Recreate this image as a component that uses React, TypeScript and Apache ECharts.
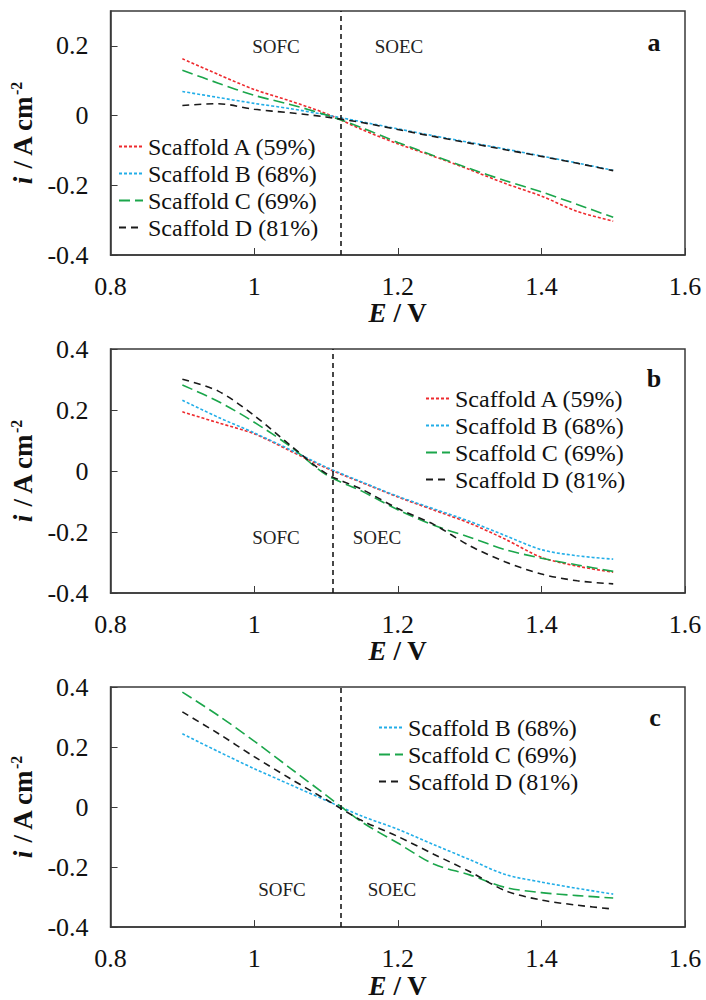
import React, { useEffect, useRef } from "react";
import * as echarts from "echarts";

// ---------- data ----------
const E_GRID = [0.9, 0.95, 1.0, 1.05, 1.1, 1.15, 1.2, 1.25, 1.3, 1.35, 1.4, 1.45, 1.5];

// Panel a
const a_A = [0.163, 0.118, 0.075, 0.042, 0.006, -0.04, -0.081, -0.117, -0.155, -0.195, -0.231, -0.275, -0.303];
const a_B = [0.069, 0.052, 0.035, 0.02, 0.002, -0.018, -0.038, -0.058, -0.077, -0.096, -0.116, -0.136, -0.157];
const a_C = [0.13, 0.093, 0.058, 0.032, 0.002, -0.035, -0.077, -0.115, -0.152, -0.187, -0.219, -0.255, -0.292];
const a_D = [0.029, 0.034, 0.018, 0.008, -0.004, -0.02, -0.04, -0.06, -0.079, -0.098, -0.117, -0.137, -0.158];

// Panel b
const b_A = [0.194, 0.158, 0.122, 0.066, 0.01, -0.038, -0.085, -0.128, -0.171, -0.224, -0.283, -0.312, -0.332];
const b_B = [0.232, 0.176, 0.125, 0.07, 0.013, -0.036, -0.083, -0.124, -0.165, -0.212, -0.258, -0.278, -0.289];
const b_C = [0.282, 0.228, 0.16, 0.081, -0.012, -0.066, -0.127, -0.178, -0.217, -0.258, -0.286, -0.308, -0.329];
const b_D = [0.301, 0.262, 0.182, 0.085, -0.008, -0.06, -0.123, -0.175, -0.245, -0.298, -0.338, -0.36, -0.37];

// Panel c
const c_B = [0.244, 0.185, 0.128, 0.075, 0.022, -0.03, -0.074, -0.125, -0.175, -0.225, -0.25, -0.271, -0.29];
const c_C = [0.383, 0.305, 0.22, 0.13, 0.04, -0.05, -0.12, -0.19, -0.226, -0.268, -0.285, -0.295, -0.303];
const c_D = [0.317, 0.245, 0.168, 0.095, 0.025, -0.045, -0.098, -0.157, -0.215, -0.279, -0.31, -0.327, -0.34];

const DIVIDER_E = [1.12, 1.108, 1.12];
const Y_MAX = [0.3, 0.4, 0.4];
const Y_MIN = -0.4;
const X_MIN = 0.8;
const X_MAX = 1.6;
const PANEL_LETTERS = ["a", "b", "c"];

const FONT = "'Liberation Serif', 'Times New Roman', serif";

const STYLES: Record<string, { color: string; type: number[] }> = {
  "Scaffold A (59%)": { color: "#ee2a2e", type: [3, 2] },
  "Scaffold B (68%)": { color: "#22aee8", type: [3, 2] },
  "Scaffold C (69%)": { color: "#1ba64b", type: [11, 5] },
  "Scaffold D (81%)": { color: "#1a1a1a", type: [7, 5] },
};

const PANELS = [
  { series: [["Scaffold A (59%)", a_A], ["Scaffold B (68%)", a_B], ["Scaffold C (69%)", a_C], ["Scaffold D (81%)", a_D]] },
  { series: [["Scaffold A (59%)", b_A], ["Scaffold B (68%)", b_B], ["Scaffold C (69%)", b_C], ["Scaffold D (81%)", b_D]] },
  { series: [["Scaffold B (68%)", c_B], ["Scaffold C (69%)", c_C], ["Scaffold D (81%)", c_D]] },
];

// ---------- layout ----------
const GRID_TOPS = [11, 349, 687];
const GRID_H = 244;
const GRID_LEFT = 103;
const GRID_RIGHT = 21;
const LEGEND_POS = [
  { left: 118, top: 133 },
  { left: 425, top: 385 },
  { left: 378, top: 714 },
];
const LETTER_POS = [
  { x: 654, y: 42 },
  { x: 654, y: 378 },
  { x: 655, y: 717 },
];
const REGION_POS = [
  { sofc: [276, 46], soec: [399, 46] },
  { sofc: [276, 537], soec: [377, 537] },
  { sofc: [282, 889], soec: [392, 889] },
];

export default function App() {
  const ref = useRef<HTMLDivElement>(null);

  useEffect(() => {
    if (!ref.current) return;
    const chart = echarts.init(ref.current, undefined, { renderer: "svg" });

    const axisColor = "#3a3a3a";
    const grids: any[] = [];
    const xAxes: any[] = [];
    const yAxes: any[] = [];
    const series: any[] = [];
    const legends: any[] = [];
    const graphics: any[] = [];

    PANELS.forEach((panel, p) => {
      grids.push({
        left: GRID_LEFT,
        right: GRID_RIGHT,
        top: GRID_TOPS[p],
        height: GRID_H,
        show: true,
        borderColor: axisColor,
        borderWidth: 1.5,
        containLabel: false,
      });
      xAxes.push({
        type: "value",
        gridIndex: p,
        min: X_MIN,
        max: X_MAX,
        interval: 0.2,
        axisLine: { show: true, onZero: false, lineStyle: { color: axisColor, width: 1.5 } },
        axisTick: { show: true, inside: true, length: 7, lineStyle: { color: axisColor, width: 1 } },
        splitLine: { show: false },
        axisLabel: { fontFamily: FONT, fontSize: 26, color: "#111", margin: 18 },
        name: "{e|E}{t| / V}",
        nameLocation: "middle",
        nameGap: 44,
        nameTextStyle: {
          fontFamily: FONT,
          fontSize: 27,
          color: "#111",
          rich: {
            e: { fontFamily: FONT, fontSize: 27, fontWeight: "bold", fontStyle: "italic", color: "#111" },
            t: { fontFamily: FONT, fontSize: 27, fontWeight: "bold", color: "#111" },
          },
        },
      });
      yAxes.push({
        type: "value",
        gridIndex: p,
        min: Y_MIN,
        max: Y_MAX[p],
        interval: 0.2,
        axisLine: { show: true, onZero: false, lineStyle: { color: axisColor, width: 1.5 } },
        axisTick: { show: true, inside: true, length: 7, lineStyle: { color: axisColor, width: 1 } },
        splitLine: { show: false },
        axisLabel: {
          fontFamily: FONT,
          fontSize: 26,
          color: "#111",
          margin: 22,
          showMaxLabel: p === 0 ? false : true,
        },
        name: "{i|i}{t| / A cm}{s|-2}",
        nameLocation: "middle",
        nameRotate: 90,
        nameGap: 68,
        nameTextStyle: {
          fontFamily: FONT,
          fontSize: 27,
          color: "#111",
          rich: {
            i: { fontFamily: FONT, fontSize: 27, fontWeight: "bold", fontStyle: "italic", color: "#111", lineHeight: 30 },
            t: { fontFamily: FONT, fontSize: 27, fontWeight: "bold", color: "#111", lineHeight: 30 },
            s: { fontFamily: FONT, fontSize: 16, fontWeight: "bold", color: "#111", verticalAlign: "top", lineHeight: 30 },
          },
        },
      });

      panel.series.forEach(([name, vals]: any, k: number) => {
        const st = STYLES[name];
        const s: any = {
          type: "line",
          name,
          xAxisIndex: p,
          yAxisIndex: p,
          data: E_GRID.map((e, i) => [e, vals[i]]),
          showSymbol: false,
          symbol: "none",
          smooth: 0.3,
          color: st.color,
          lineStyle: { color: st.color, width: 1.6, type: st.type },
          z: 3,
        };
        if (k === 0) {
          s.markLine = {
            silent: true,
            symbol: ["none", "none"],
            label: { show: false },
            lineStyle: { color: "#1a1a1a", type: [5, 4], width: 1.6 },
            data: [{ xAxis: DIVIDER_E[p] }],
          };
        }
        series.push(s);
      });

      legends.push({
        orient: "vertical",
        left: LEGEND_POS[p].left,
        top: LEGEND_POS[p].top,
        padding: 0,
        itemWidth: 24,
        itemHeight: 14,
        itemGap: 0,
        data: panel.series.map((s: any) => s[0]),
        itemStyle: { opacity: 0 },
        textStyle: { fontFamily: FONT, fontSize: 24, color: "#111", lineHeight: 27 },
        selectedMode: false,
      });

      graphics.push({
        type: "text",
        x: LETTER_POS[p].x,
        y: LETTER_POS[p].y,
        style: { text: PANEL_LETTERS[p], fontFamily: FONT, fontSize: 26, fontWeight: "bold", fill: "#111", align: "center", verticalAlign: "middle" },
      });
      graphics.push({
        type: "text",
        x: REGION_POS[p].sofc[0],
        y: REGION_POS[p].sofc[1],
        style: { text: "SOFC", fontFamily: FONT, fontSize: 19, fill: "#222", align: "center", verticalAlign: "middle" },
      });
      graphics.push({
        type: "text",
        x: REGION_POS[p].soec[0],
        y: REGION_POS[p].soec[1],
        style: { text: "SOEC", fontFamily: FONT, fontSize: 19, fill: "#222", align: "center", verticalAlign: "middle" },
      });
    });

    chart.setOption({
      animation: false,
      backgroundColor: "#fff",
      grid: grids,
      xAxis: xAxes,
      yAxis: yAxes,
      legend: legends,
      series,
      graphic: graphics,
    });

    return () => chart.dispose();
  }, []);

  return (
    <div
      ref={ref}
      style={{ position: "fixed", left: 0, top: 0, width: 706, height: 1000, background: "#fff" }}
    />
  );
}
